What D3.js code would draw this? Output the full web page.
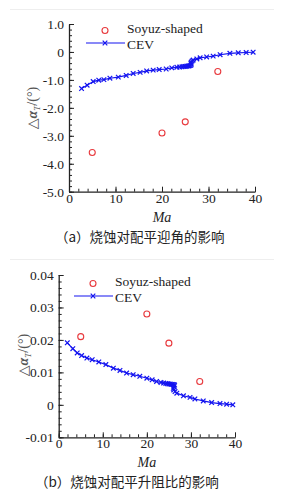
<!DOCTYPE html>
<html>
<head>
<meta charset="utf-8">
<script src="https://cdn.jsdelivr.net/npm/d3@7"></script>
<style>
  html, body { margin: 0; padding: 0; background: #fff; }
  svg { display: block; }
  svg text { font-family: "Liberation Serif", "DejaVu Serif", serif !important; fill: #222; }
  svg text.cap { font-family: "Noto Sans CJK SC", sans-serif !important; }
</style>
</head>
<body>
<svg id="chart"></svg>
<script>
// x axis ticks (Ma)
var maTicks = [0, 10, 20, 30, 40];
var maMinor = d3.range(0, 40.1, 2);

// (a) trim angle of attack change
var aoaTicks = [1, 0, -1, -2, -3, -4, -5];
var aoaLabels = ["1.0", "0", "-1.0", "-2.0", "-3.0", "-4.0", "-5.0"];
var aoaMinor = d3.range(-5, 1.01, 0.2);

// (b) lift-drag ratio change
var ldTicks = [0.04, 0.03, 0.02, 0.01, 0, -0.01];
var ldLabels = ["0.04", "0.03", "0.02", "0.01", "0", "-0.01"];
var ldMinor = d3.range(-0.01, 0.0401, 0.002);

var soyuzMa = [5, 20, 25, 32];
var soyuzAoA = [-3.6, -2.9, -2.5, -0.7];
var soyuzLD = [0.021, 0.028, 0.019, 0.0072];

var cevMaA = [2.7, 3.9, 5.2, 6.4, 7.5, 8.8, 10.6, 12.3, 13.8, 15.3, 16.7, 18.1, 19.4, 20.9, 22.1, 23.2,
  23.8, 24.3, 24.7, 25.0, 25.3, 25.6, 25.8, 26.0, 26.2, 26.3, 26.2, 26.3, 26.5, 26.7,
  27.5, 28.2, 29.6, 31.0, 32.5, 34.6, 36.4, 38.1, 39.6];
var cevAoA = [-1.31, -1.19, -1.06, -1.01, -0.99, -0.94, -0.90, -0.84, -0.77, -0.73, -0.68, -0.65, -0.63, -0.61, -0.57, -0.55,
  -0.54, -0.53, -0.52, -0.52, -0.51, -0.50, -0.50, -0.49, -0.48, -0.44, -0.40, -0.36, -0.32, -0.29,
  -0.25, -0.21, -0.18, -0.15, -0.10, -0.05, -0.03, -0.02, -0.01];

var cevMaB = [1.95, 3.2, 4.2, 5.2, 6.4, 7.6, 9.1, 10.7, 12.4, 13.9, 15.4, 16.9, 18.4, 20.0, 21.2, 22.2, 23.2,
  23.8, 24.3, 24.7, 25.0, 25.3, 25.6, 25.9, 26.1, 26.3, 26.2, 26.0, 26.1, 26.4, 26.8,
  28.3, 29.8, 30.9, 32.8, 34.7, 36.6, 38.1, 39.5];
var cevLD = [0.0191, 0.0173, 0.0160, 0.0152, 0.0144, 0.0139, 0.0132, 0.0124, 0.0113, 0.0106, 0.0098, 0.0093, 0.0088, 0.0082, 0.0077, 0.0072, 0.0069,
  0.0067, 0.0066, 0.0065, 0.0064, 0.0064, 0.0063, 0.0063, 0.0062, 0.0061, 0.0056, 0.0051, 0.0046, 0.0041, 0.0036,
  0.0028, 0.0023, 0.0018, 0.0012, 0.0007, 0.0004, 0.0002, 0.0000];

var blue = "#1414f0";
var red = "#e8383c";

var svg = d3.select("#chart").attr("width", 284).attr("height", 503);

// faint separator lines
svg.append("line").attr("x1", 10).attr("x2", 274).attr("y1", 9.5).attr("y2", 9.5).attr("stroke", "#eee");
svg.append("line").attr("x1", 10).attr("x2", 274).attr("y1", 259.5).attr("y2", 259.5).attr("stroke", "#eee");

function drawPanel(p) {
  var x = d3.scaleLinear().domain([0, 40]).range([p.left, p.right]);
  var y = d3.scaleLinear().domain(p.yDomain).range([p.bottom, p.top]);
  var g = svg.append("g");

  // minor ticks
  g.append("g").attr("transform", "translate(0," + p.bottom + ")")
    .call(d3.axisBottom(x).tickValues(maMinor).tickSize(-3).tickFormat(""))
    .call(function(a) { a.select(".domain").remove(); });
  g.append("g").attr("transform", "translate(" + p.left + ",0)")
    .call(d3.axisLeft(y).tickValues(p.yMinor).tickSize(-3).tickFormat(""))
    .call(function(a) { a.select(".domain").remove(); });

  // major axes
  var xa = g.append("g").attr("transform", "translate(0," + p.bottom + ")")
    .call(d3.axisBottom(x).tickValues(maTicks).tickSizeInner(-5).tickSizeOuter(0).tickPadding(3));
  var ya = g.append("g").attr("transform", "translate(" + p.left + ",0)")
    .call(d3.axisLeft(y).tickValues(p.yTicks).tickSizeInner(-5).tickSizeOuter(0).tickPadding(5)
      .tickFormat(function(d, i) { return p.yLabels[i]; }));
  g.selectAll(".domain").attr("stroke", "#222").attr("stroke-width", 1.3);
  g.selectAll(".tick line").attr("stroke", "#222").attr("stroke-width", 1);
  g.selectAll(".tick text").attr("font-size", 13.5).attr("fill", "#222");
  xa.selectAll(".tick text").attr("dy", "0.6em");

  // CEV line + markers
  var pts = p.cevX.map(function(d, i) { return [d, p.cevY[i]]; });
  g.append("path").datum(pts)
    .attr("fill", "none").attr("stroke", blue).attr("stroke-width", 1.2)
    .attr("d", d3.line().x(function(d) { return x(d[0]); }).y(function(d) { return y(d[1]); }));
  var cross = "M-2.3,-2.3L2.3,2.3M-2.3,2.3L2.3,-2.3";
  g.append("g").selectAll("path").data(pts).enter().append("path")
    .attr("d", cross)
    .attr("transform", function(d) { return "translate(" + x(d[0]) + "," + y(d[1]) + ")"; })
    .attr("stroke", blue).attr("stroke-width", 1.2).attr("fill", "none");

  // Soyuz circles
  g.append("g").selectAll("circle").data(p.sX).enter().append("circle")
    .attr("cx", function(d) { return x(d); })
    .attr("cy", function(d, i) { return y(p.sY[i]); })
    .attr("r", 3).attr("fill", "none").attr("stroke", red).attr("stroke-width", 1.1);

  // legend
  var lx = p.legX, ly = p.legY;
  g.append("circle").attr("cx", lx + 19).attr("cy", ly).attr("r", 3)
    .attr("fill", "none").attr("stroke", red).attr("stroke-width", 1.1);
  g.append("text").attr("x", lx + 41).attr("y", ly - 1.5).attr("dy", "0.33em")
    .attr("font-size", 13.5).text("Soyuz-shaped");
  g.append("line").attr("x1", lx).attr("x2", lx + 39).attr("y1", ly + 12.5).attr("y2", ly + 12.5)
    .attr("stroke", blue).attr("stroke-width", 1.2);
  g.append("path").attr("d", cross).attr("transform", "translate(" + (lx + 19) + "," + (ly + 12.5) + ")")
    .attr("stroke", blue).attr("stroke-width", 1.2);
  g.append("text").attr("x", lx + 41).attr("y", ly + 14).attr("dy", "0.33em")
    .attr("font-size", 13.5).text("CEV");

  // axis titles
  g.append("text").attr("x", (p.left + p.right) / 2).attr("y", p.bottom + 30)
    .attr("text-anchor", "middle").attr("font-size", 14).attr("font-style", "italic").text("Ma");
  var yt = g.append("text")
    .attr("transform", "translate(" + p.yTitleX + "," + p.yTitleY + ") rotate(-90)")
    .attr("text-anchor", "middle").attr("dy", "0.35em").attr("font-size", 14).style("fill", "#555");
  yt.append("tspan").text("\u25B3");
  yt.append("tspan").attr("font-style", "italic").attr("font-weight", "bold").text("\u03B1");
  yt.append("tspan").attr("font-size", 9).attr("font-style", "italic").attr("dy", 3).text("T");
  yt.append("tspan").attr("dy", -3).text("/(\u00B0)");

  // caption
  g.append("text").attr("class", "cap").attr("x", p.capX).attr("y", p.capY).attr("dy", "0.35em")
    .attr("font-size", 13.5).text(p.caption);
}

drawPanel({
  left: 69, right: 255, top: 24, bottom: 191.7,
  yDomain: [-5, 1], yTicks: aoaTicks, yLabels: aoaLabels, yMinor: aoaMinor,
  cevX: cevMaA, cevY: cevAoA, sX: soyuzMa, sY: soyuzAoA,
  legX: 86, legY: 30.5,
  yTitleX: 32, yTitleY: 108,
  capX: 55, capY: 237, caption: "（a）烧蚀对配平迎角的影响"
});

drawPanel({
  left: 58.7, right: 235, top: 275, bottom: 437.3,
  yDomain: [-0.01, 0.04], yTicks: ldTicks, yLabels: ldLabels, yMinor: ldMinor,
  cevX: cevMaB, cevY: cevLD, sX: soyuzMa, sY: soyuzLD,
  legX: 74, legY: 283.5,
  yTitleX: 23, yTitleY: 355,
  capX: 35, capY: 482, caption: "（b）烧蚀对配平升阻比的影响"
});
</script>
</body>
</html>
